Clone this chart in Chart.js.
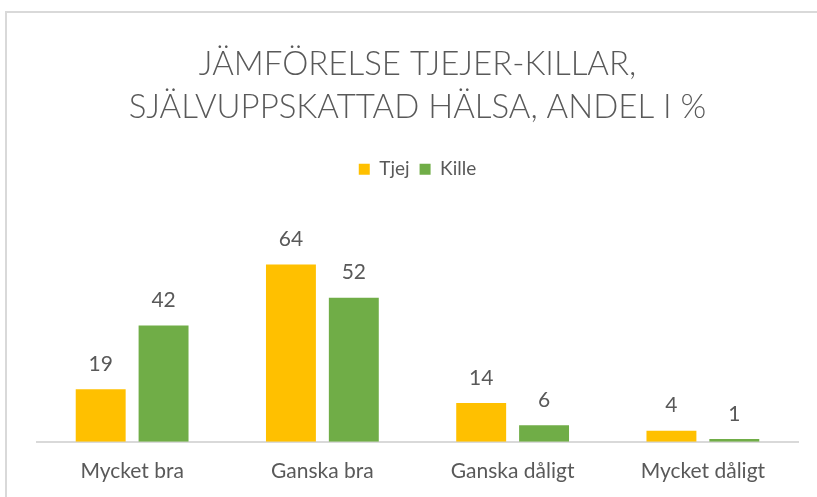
<!DOCTYPE html>
<html lang="sv">
<head>
    <meta charset="UTF-8">
    <script src="https://cdn.jsdelivr.net/npm/chart.js"></script>
    <title>Jämförelse tjejer-killar</title>
    <style>
        body { margin: 0; background: #fff; overflow: hidden; }
        /* chart frame, cropped at right and bottom like the screenshot */
        .frame {
            position: absolute;
            left: 5px;
            top: 11px;
            width: 900px;
            height: 600px;
            border: 2px solid #d9d9d9;
        }
        .wrap {
            position: absolute;
            left: 0;
            top: 0;
            width: 817px;
            height: 497px;
        }
    </style>
</head>
<body>
    <div class="frame"></div>
    <div class="wrap"><canvas id="halsaChart"></canvas></div>

    <script>
        const categories = ['Mycket bra', 'Ganska bra', 'Ganska dåligt', 'Mycket dåligt'];
        const tjej = [19, 64, 14, 4];
        const kille = [42, 52, 6, 1];

        const textColor = '#595959';
        const fontFamily = 'Lato, "Liberation Sans", sans-serif';

        // values above each bar
        const barValues = {
            id: 'barValues',
            afterDatasetsDraw(chart) {
                const ctx = chart.ctx;
                ctx.save();
                ctx.font = '21px ' + fontFamily;
                ctx.fillStyle = textColor;
                ctx.textAlign = 'center';
                ctx.textBaseline = 'middle';
                chart.data.datasets.forEach((ds, i) => {
                    chart.getDatasetMeta(i).data.forEach((bar, j) => {
                        ctx.fillText(ds.data[j], bar.x, bar.y - 25);
                    });
                });
                ctx.restore();
            }
        };

        // extra room under the legend
        const legendGap = {
            id: 'legendGap',
            beforeInit(chart) {
                const fit = chart.legend.fit;
                chart.legend.fit = function () {
                    fit.bind(chart.legend)();
                    this.height += 59;
                };
            }
        };

        const ctx = document.getElementById('halsaChart').getContext('2d');
        const chart = new Chart(ctx, {
            type: 'bar',
            data: {
                labels: categories,
                datasets: [
                    { label: 'Tjej', data: tjej, backgroundColor: '#FFC000' },
                    { label: 'Kille', data: kille, backgroundColor: '#70AD47' }
                ]
            },
            options: {
                responsive: true,
                maintainAspectRatio: false,
                animation: false,
                layout: { padding: { left: 37, right: 19, top: 42, bottom: -4 } },
                datasets: {
                    bar: { categoryPercentage: 0.661, barPercentage: 0.794 }
                },
                scales: {
                    x: {
                        grid: { display: false, drawTicks: false },
                        border: { display: true, color: '#d9d9d9', width: 2 },
                        ticks: {
                            color: textColor,
                            padding: 17,
                            font: { family: fontFamily, size: 21 }
                        }
                    },
                    y: {
                        display: false,
                        min: 0,
                        max: 70
                    }
                },
                plugins: {
                    title: {
                        display: true,
                        text: ['JÄMFÖRELSE TJEJER-KILLAR,', 'SJÄLVUPPSKATTAD HÄLSA, ANDEL I %'],
                        color: textColor,
                        font: { family: fontFamily, size: 33, weight: 300, lineHeight: 1.33 },
                        padding: { top: 0, bottom: 20 }
                    },
                    legend: {
                        labels: {
                            color: textColor,
                            boxWidth: 11,
                            boxHeight: 11,
                            font: { family: fontFamily, size: 19 }
                        }
                    },
                    tooltip: { enabled: false }
                }
            },
            plugins: [barValues, legendGap]
        });
    </script>
</body>
</html>
